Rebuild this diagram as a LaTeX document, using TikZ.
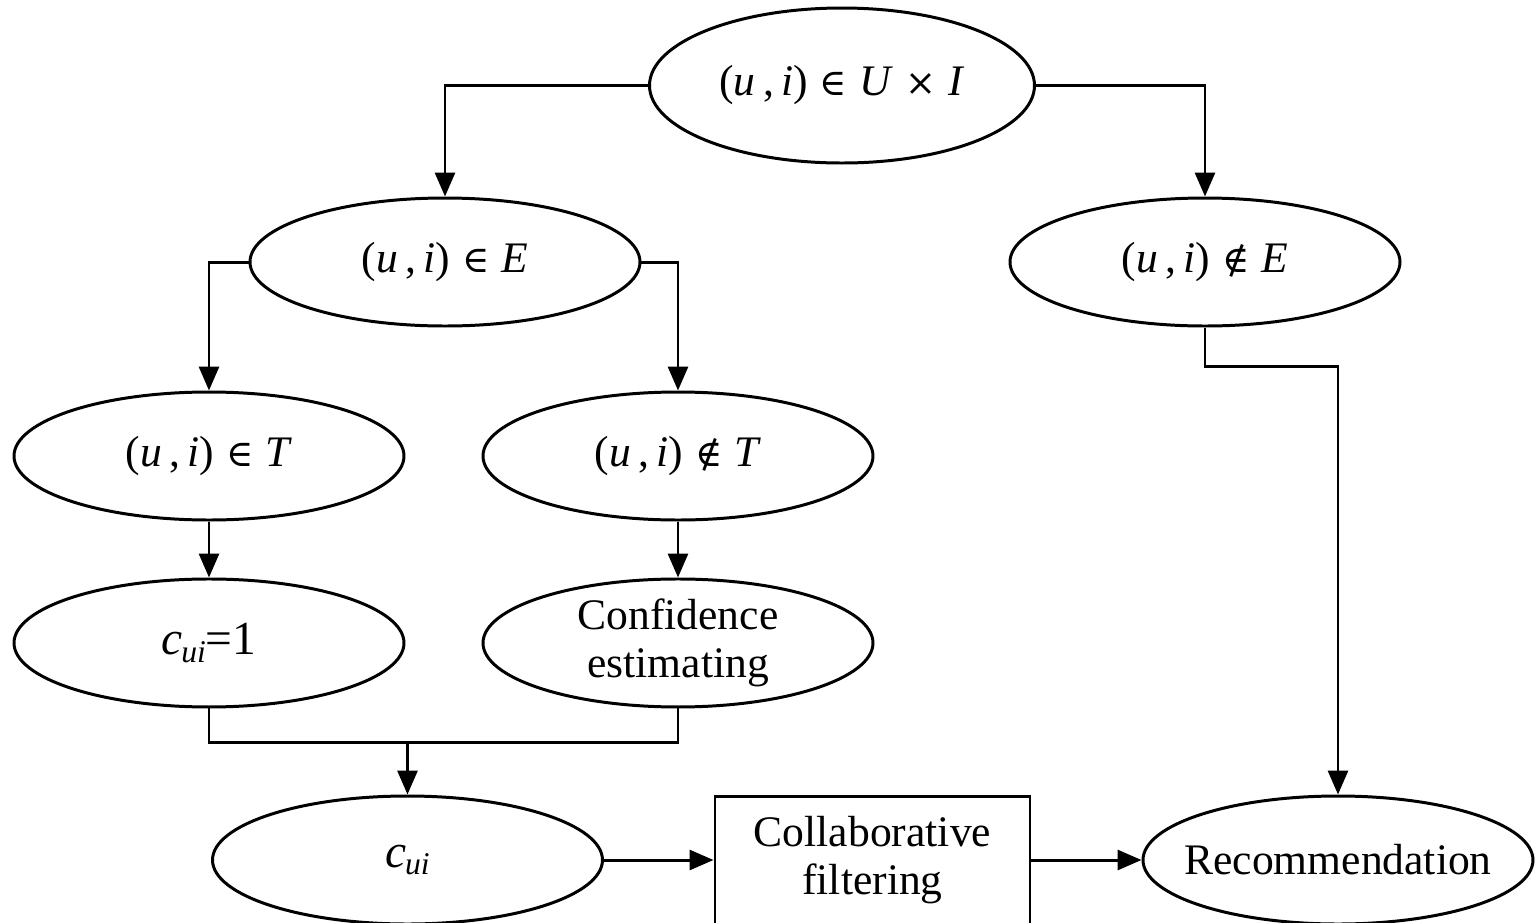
\documentclass[tikz,border=0pt]{standalone}
\usepackage{fontspec}
\setmainfont{Liberation Serif}
\newfontfamily\symfont{DejaVu Serif}
\usetikzlibrary{arrows.meta, shapes.geometric, positioning}
\newcommand{\mv}[1]{\textit{#1}}
\newcommand{\sy}[1]{{\symfont\fontsize{10.5}{11}\selectfont #1}}
\newcommand{\cui}{\mv{c}\kern-0.03em\raisebox{-0.35ex}{\fontsize{9}{9}\selectfont\mv{ui}}}
\tikzset{%
>={Triangle[width=2mm,length=2.4mm]},
  % Specifications for style of nodes:
            base/.style = {ellipse, draw=black, line width=0.85pt,
                            minimum width=3.9cm, minimum
                            height=1.28cm, inner sep=0pt, font=\fontsize{12.4}{13.5}\selectfont},
            boxed/.style = {rectangle, draw=black, line width=0.85pt,
                            minimum width=3.15cm, minimum height=1.28cm,
                            inner sep=0pt, font=\fontsize{12.4}{13.5}\selectfont},
            link/.style = {line width=0.85pt}
}
\begin{document}
\begin{tikzpicture}[every node/.style={base}, align=center]
                \useasboundingbox (0,0) rectangle (15.4,-9.23);

                \node[minimum width=3.85cm, minimum height=1.55cm] (uxi) at (8.42,-0.855)
                    {(\mv{u}\,,\,\mv{i})\;\sy{∈}\;\mv{U}\;\sy{×}\;\mv{I}};
                \node (inE) at (4.45,-2.62) {(\mv{u}\,,\,\mv{i})\;\sy{∈}\;\mv{E}};
                \node (notE) at (12.05,-2.62) {(\mv{u}\,,\,\mv{i})\;\sy{∉}\;\mv{E}};
                \node (inT) at (2.09,-4.56) {(\mv{u}\,,\,\mv{i})\;\sy{∈}\;\mv{T}};
                \node (notT) at (6.78,-4.56) {(\mv{u}\,,\,\mv{i})\;\sy{∉}\;\mv{T}};
                \node[below=0.56cm of inT, font=\fontsize{13.5}{14}\selectfont] (cone) {\cui=1};
                \node[below=0.56cm of notT] (conf) {Confidence\\estimating};
                \node[font=\fontsize{13.5}{14}\selectfont] (cui) at (4.075,-8.6) {\cui};
                \node[boxed] (cf) at (8.725,-8.6) {Collaborative\\filtering};
                \node[inner xsep=-0.2cm] (rec) at (13.38,-8.6) {Recommendation};

                \coordinate (mrg) at (4.075,-7.42);

                \draw[link, ->] (uxi.west) -| (inE.north);
                \draw[link, ->] (uxi.east) -| (notE.north);
                \draw[link, ->] (inE.west) -| (inT.north);
                \draw[link, ->] (inE.east) -| (notT.north);
                \draw[link, ->] (inT) -- (cone);
                \draw[link, ->] (notT) -- (conf);
                \draw[link] (cone.south) |- (mrg) -| (conf.south);
                \draw[link, ->] (mrg) -- (cui.north);
                \draw[link, ->] (notE.south) -- ++(0,-0.39) -| (rec.north);
                \draw[link, ->] (cui) -- (cf);
                \draw[link, ->] (cf) -- (rec);

            \end{tikzpicture}
\end{document}
